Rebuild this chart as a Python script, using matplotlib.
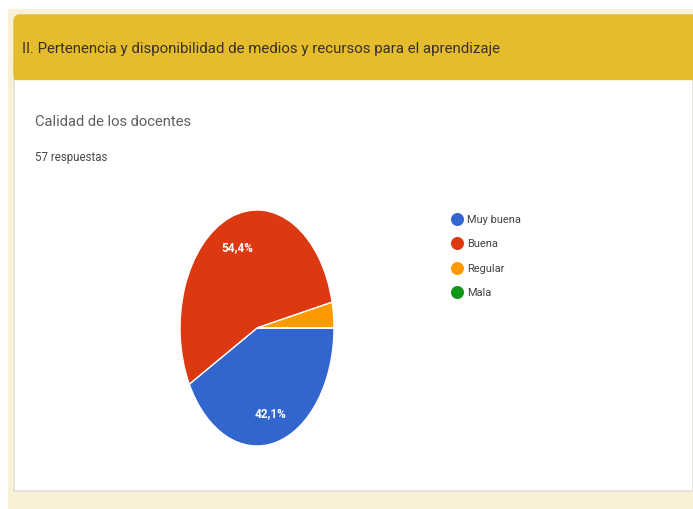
import matplotlib.pyplot as plt
from matplotlib.patches import Rectangle, FancyBboxPatch

# survey data
section_title = "II. Pertenencia y disponibilidad de medios y recursos para el aprendizaje"
question = "Calidad de los docentes"
n_responses = 57
categories = ["Muy buena", "Buena", "Regular", "Mala"]
counts = [24, 31, 2, 0]
colors = ["#3366cc", "#dc3912", "#ff9900", "#109618"]

W, H = 693, 510
FONT = ["Roboto", "DejaVu Sans"]

fig = plt.figure(figsize=(W / 100, H / 100), dpi=100)

# page / card background, in pixel units
bg = fig.add_axes([0, 0, 1, 1])
bg.set_xlim(0, W)
bg.set_ylim(H, 0)
bg.axis("off")
bg.add_patch(Rectangle((0, 0), W, H, color="white"))
bg.add_patch(Rectangle((8, 10), W - 8, H - 10, color="#f8f1d8"))
bg.add_patch(Rectangle((14, 80), W - 14, 412, facecolor="white",
                       edgecolor="#e4e1d8", linewidth=1.2))
bg.add_patch(FancyBboxPatch((14, 16), W, 64, boxstyle="round,pad=0,rounding_size=6",
                            color="#e4bc2d"))
bg.add_patch(Rectangle((14, 60), W - 14, 20, color="#e4bc2d"))

bg.text(22, 49, section_title, family=FONT, fontsize=10.8,
        color="#3a3224", va="center", ha="left")
bg.text(35, 122, question, family=FONT, fontsize=10.6,
        color="#5f5f5f", va="center", ha="left")
bg.text(35, 158, f"{n_responses} respuestas", family=FONT, fontsize=8.3,
        color="#4a4a4a", va="center", ha="left")

# legend entries
for i, (cat, col) in enumerate(zip(categories, colors)):
    y = 220 + 24.3 * i
    bg.scatter([457], [y], s=70, color=col, zorder=3)
    bg.text(467, y, cat, family=FONT, fontsize=7.9, color="#444444",
            va="center", ha="left")

# pie, stretched vertically as in the screenshot
cx, cy, rx, ry = 257, 329, 77, 118
pax = fig.add_axes([(cx - rx) / W, 1 - (cy + ry) / H, 2 * rx / W, 2 * ry / H])


def pct_label(p):
    return f"{p:.1f}%".replace(".", ",") if p > 5 else ""


wedges, texts, autotexts = pax.pie(
    counts, colors=colors, startangle=0, counterclock=False,
    autopct=pct_label, pctdistance=0.74,
    wedgeprops=dict(edgecolor="white", linewidth=1.0),
    textprops=dict(color="white", fontsize=8.5, family=FONT, fontweight="bold"),
)
pax.set_aspect("auto")
pax.set_xlim(-1.0, 1.0)
pax.set_ylim(-1.0, 1.0)
pax.axis("off")

fig.savefig("out.png", dpi=100)
